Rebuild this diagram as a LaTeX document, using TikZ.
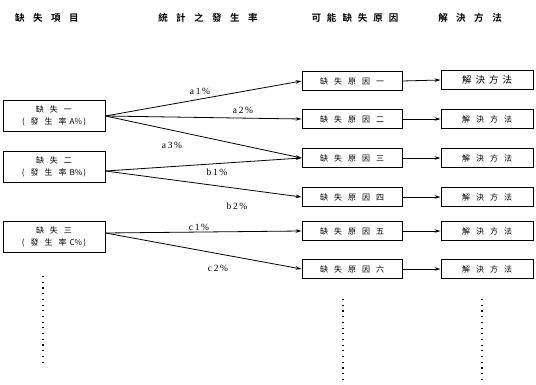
\documentclass[tikz,border=0pt]{standalone}
\usepackage{fontspec}
\setmainfont{Noto Sans CJK TC}[BoldFont={* Bold}]
\newfontfamily\latf{Liberation Serif}
\usetikzlibrary{arrows.meta}
\newcommand{\hg}{\hspace{8.5pt}}
\newcommand{\bg}{\hspace{6pt}}
\newcommand{\lab}[2]{#1\,#2\,\%}
\begin{document}
\begin{tikzpicture}[x=1pt,y=-1pt,
  hdr/.style={font=\bfseries\fontsize{9.5}{11}\selectfont, inner sep=0pt},
  defect/.style={draw, line width=0.9pt, minimum width=102pt, minimum height=31pt, align=center, inner sep=0pt, font=\fontsize{8}{12.5}\selectfont},
  cause/.style={draw, line width=0.9pt, minimum width=100pt, minimum height=19pt, inner sep=0pt, font=\fontsize{8}{9}\selectfont},
  sol/.style={draw, line width=0.9pt, minimum width=92pt, minimum height=19pt, inner sep=0pt, font=\fontsize{8}{9}\selectfont},
  lbl/.style={font=\latf\fontsize{9.5}{10}\selectfont, inner sep=0pt},
  conn/.style={line width=0.8pt, -{Stealth[length=6pt,width=3.5pt]}},
  dotline/.style={line width=1.1pt, dash pattern=on 1.1pt off 4.6pt}
]
\useasboundingbox (0,0) rectangle (536,385);
% headers
\node[hdr] (h1) at (47,18) {缺\hg 失\hg 項\hg 目};
\node[hdr] (h2) at (208,18) {統\hg 計\hg 之\hg 發\hg 生\hg 率};
\node[hdr] (h3) at (355,18) {可\bg 能\bg 缺\bg 失\bg 原\bg 因};
\node[hdr] (h4) at (470,18) {解\hg 決\hg 方\hg 法};
% defect boxes
\node[defect] (d1) at (54,116) {缺\bg 失\bg 一\\(\bg 發\bg 生\bg 率\hspace{3pt}A\%\,)};
\node[defect] (d2) at (54,167) {缺\bg 失\bg 二\\(\bg 發\bg 生\bg 率\hspace{3pt}B\%\,)};
\node[defect] (d3) at (54,237) {缺\bg 失\bg 三\\(\bg 發\bg 生\bg 率\hspace{3pt}C\%\,)};
% cause boxes
\node[cause] (c1) at (352,81) {缺\bg 失\bg 原\bg 因\bg 一};
\node[cause] (c2) at (352,119) {缺\bg 失\bg 原\bg 因\bg 二};
\node[cause] (c3) at (352,158) {缺\bg 失\bg 原\bg 因\bg 三};
\node[cause] (c4) at (352,197) {缺\bg 失\bg 原\bg 因\bg 四};
\node[cause] (c5) at (352,231) {缺\bg 失\bg 原\bg 因\bg 五};
\node[cause] (c6) at (352,269) {缺\bg 失\bg 原\bg 因\bg 六};
% solution boxes
\node[sol, font=\fontsize{9.5}{11}\selectfont] (s1) at (487,80) {解\hspace{4pt}決\hspace{4pt}方\hspace{4pt}法};
\node[sol] (s2) at (487,119) {解\bg 決\bg 方\bg 法};
\node[sol] (s3) at (487,158) {解\bg 決\bg 方\bg 法};
\node[sol] (s4) at (487,197) {解\bg 決\bg 方\bg 法};
\node[sol] (s5) at (487,231) {解\bg 決\bg 方\bg 法};
\node[sol] (s6) at (487,269) {解\bg 決\bg 方\bg 法};
% connectors
\draw[conn] (d1.east) -- (c1.west);
\draw[conn] (d1.east) -- (c2.west);
\draw[conn] (d1.east) -- (c3.west);
\draw[conn] ([yshift=-4pt]d2.east) -- (c3.west);
\draw[conn] ([yshift=-4pt]d2.east) -- (c4.west);
\draw[conn] ([yshift=4pt]d3.east) -- (c5.west);
\draw[conn] ([yshift=4pt]d3.east) -- (c6.west);
\foreach \i in {1,...,6} \draw[conn] (c\i.east) -- (s\i.west);
% labels
\node[lbl] (la1) at (200,91) {\lab{a}{1}};
\node[lbl] (la2) at (243,110) {\lab{a}{2}};
\node[lbl] (la3) at (172,145) {\lab{a}{3}};
\node[lbl] (lb1) at (217,172) {\lab{b}{1}};
\node[lbl] (lb2) at (237,206) {\lab{b}{2}};
\node[lbl] (lc1) at (199,227) {\lab{c}{1}};
\node[lbl] (lc2) at (218,268) {\lab{c}{2}};
% dotted continuation
\coordinate (p1a) at (43,276); \coordinate (p1b) at (43,364);
\coordinate (p2a) at (343,299); \coordinate (p2b) at (343,385);
\coordinate (p3a) at (482,299); \coordinate (p3b) at (482,385);
\draw[dotline] (p1a) -- (p1b);
\draw[dotline] (p2a) -- (p2b);
\draw[dotline] (p3a) -- (p3b);
\end{tikzpicture}
\end{document}
